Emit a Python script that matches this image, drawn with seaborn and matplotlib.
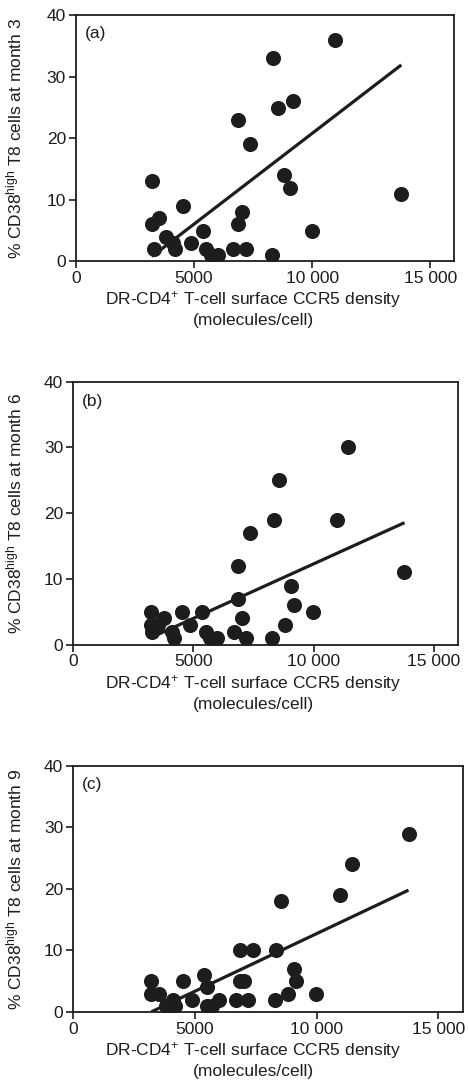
import matplotlib
matplotlib.use("Agg")
import matplotlib.pyplot as plt
import pandas as pd
import seaborn as sns
from matplotlib.ticker import FixedLocator, FuncFormatter

# ---------------------------------------------------------------------------
# Data
# ---------------------------------------------------------------------------
ccr5_a = [3220, 3220, 3300, 3520, 3800, 4110, 4180, 4530, 4880, 5370, 5510, 5700,
          6000, 6670, 6850, 6850, 7030, 7200, 7370, 8280, 8350, 8540, 8820, 9060,
          9170, 9990, 10970, 13770]
cd38_m3 = [13, 6, 2, 7, 4, 3, 2, 9, 3, 5, 2, 1,
           1, 2, 6, 23, 8, 2, 19, 1, 33, 25, 14, 12,
           26, 5, 36, 11]

ccr5_b = [3220, 3220, 3300, 3520, 3800, 4110, 4180, 4530, 4880, 5370, 5510, 5700,
          6000, 6670, 6850, 6850, 7030, 7200, 7370, 8280, 8350, 8540, 8820, 9060,
          9170, 9990, 10970, 11430, 13770]
cd38_m6 = [5, 3, 2, 3, 4, 2, 1, 5, 3, 5, 2, 1,
           1, 2, 7, 12, 4, 1, 17, 1, 19, 25, 3, 9,
           6, 5, 19, 30, 11]

ccr5_c = [3220, 3220, 3520, 3800, 4110, 4180, 4530, 4880, 5370, 5510, 5510, 5700,
          6000, 6670, 6850, 6850, 7030, 7200, 7370, 8280, 8350, 8540, 8820, 9060,
          9170, 9990, 10970, 11430, 13770]
cd38_m9 = [5, 3, 3, 1, 2, 1, 5, 2, 6, 4, 1, 1,
           2, 2, 10, 5, 5, 2, 10, 2, 10, 18, 3, 7,
           5, 3, 19, 24, 29]

# regression lines as printed in the figure (% per molecule/cell, %)
fit_slope = [2.95e-3, 1.66e-3, 1.874e-3]
fit_intercept = [-8.7, -4.3, -6.0]

panel_labels = ["(a)", "(b)", "(c)"]
months = [3, 6, 9]
x_ticks = [0, 5000, 10000, 15000]
y_ticks = [0, 10, 20, 30, 40]

INK = "#1e1c1d"
FS = 12.5
FIG_W, FIG_H = 468, 1089

# axes rectangles in figure fractions (left, bottom, width, height)
AX_RECTS = [
    (0.162, 0.760, 0.808, 0.226),
    (0.156, 0.408, 0.823, 0.2415),
    (0.156, 0.0707, 0.833, 0.226),
]


def thousands(v, _pos):
    v = int(round(v))
    if v < 10000:
        return str(v)
    return f"{v:,}".replace(",", " ")


def draw_panel(ax, df, slope, intercept, label, month):
    sns.scatterplot(data=df, x="ccr5", y="cd38", ax=ax, s=118, color=INK,
                    linewidth=0, zorder=3, legend=False)

    xs = [min(df["ccr5"]), max(df["ccr5"])]
    fit = pd.DataFrame({"ccr5": xs, "cd38": [slope * x + intercept for x in xs]})
    sns.lineplot(data=fit, x="ccr5", y="cd38", ax=ax, color=INK, linewidth=2.3,
                 zorder=4, solid_capstyle="butt")

    ax.set_xlim(0, 16000)
    ax.set_ylim(0, 40)
    ax.xaxis.set_major_locator(FixedLocator(x_ticks))
    ax.yaxis.set_major_locator(FixedLocator(y_ticks))
    ax.xaxis.set_major_formatter(FuncFormatter(thousands))
    ax.tick_params(direction="out", length=5, width=1.2, color=INK,
                   labelsize=FS, labelcolor=INK, pad=2)
    for sp in ax.spines.values():
        sp.set_linewidth(1.3)
        sp.set_color(INK)
        sp.set_visible(True)
    ax.set_xlabel("DR-CD4$^{+}$ T-cell surface CCR5 density\n(molecules/cell)",
                  fontsize=FS, color=INK, linespacing=1.25, va="top")
    ax.set_ylabel(f"% CD38$^{{high}}$ T8 cells at month {month}",
                  fontsize=FS, color=INK)
    ax.text(0.024, 0.955, label, transform=ax.transAxes, fontsize=FS,
            color=INK, va="top", ha="left")


def main():
    sns.set_theme(style="ticks")
    plt.rcParams["font.family"] = ["Liberation Sans", "DejaVu Sans"]
    plt.rcParams["mathtext.default"] = "regular"

    fig = plt.figure(figsize=(FIG_W / 100, FIG_H / 100), dpi=100)
    fig.patch.set_facecolor("white")

    panels = [
        pd.DataFrame({"ccr5": ccr5_a, "cd38": cd38_m3}),
        pd.DataFrame({"ccr5": ccr5_b, "cd38": cd38_m6}),
        pd.DataFrame({"ccr5": ccr5_c, "cd38": cd38_m9}),
    ]
    for i, (rect, df) in enumerate(zip(AX_RECTS, panels)):
        ax = fig.add_axes(rect)
        ax.set_facecolor("white")
        draw_panel(ax, df, fit_slope[i], fit_intercept[i], panel_labels[i], months[i])

        # x label sits a little left of the axes centre, y label near the edge
        left_px = rect[0] * FIG_W
        w_px = rect[2] * FIG_W
        h_px = rect[3] * FIG_H
        ax.xaxis.set_label_coords((253 - left_px) / w_px, -28 / h_px)
        ax.yaxis.set_label_coords(-(left_px - 24) / w_px, 0.5)

    fig.savefig("out.png", dpi=100, facecolor="white")
    plt.close(fig)


if __name__ == "__main__":
    main()
